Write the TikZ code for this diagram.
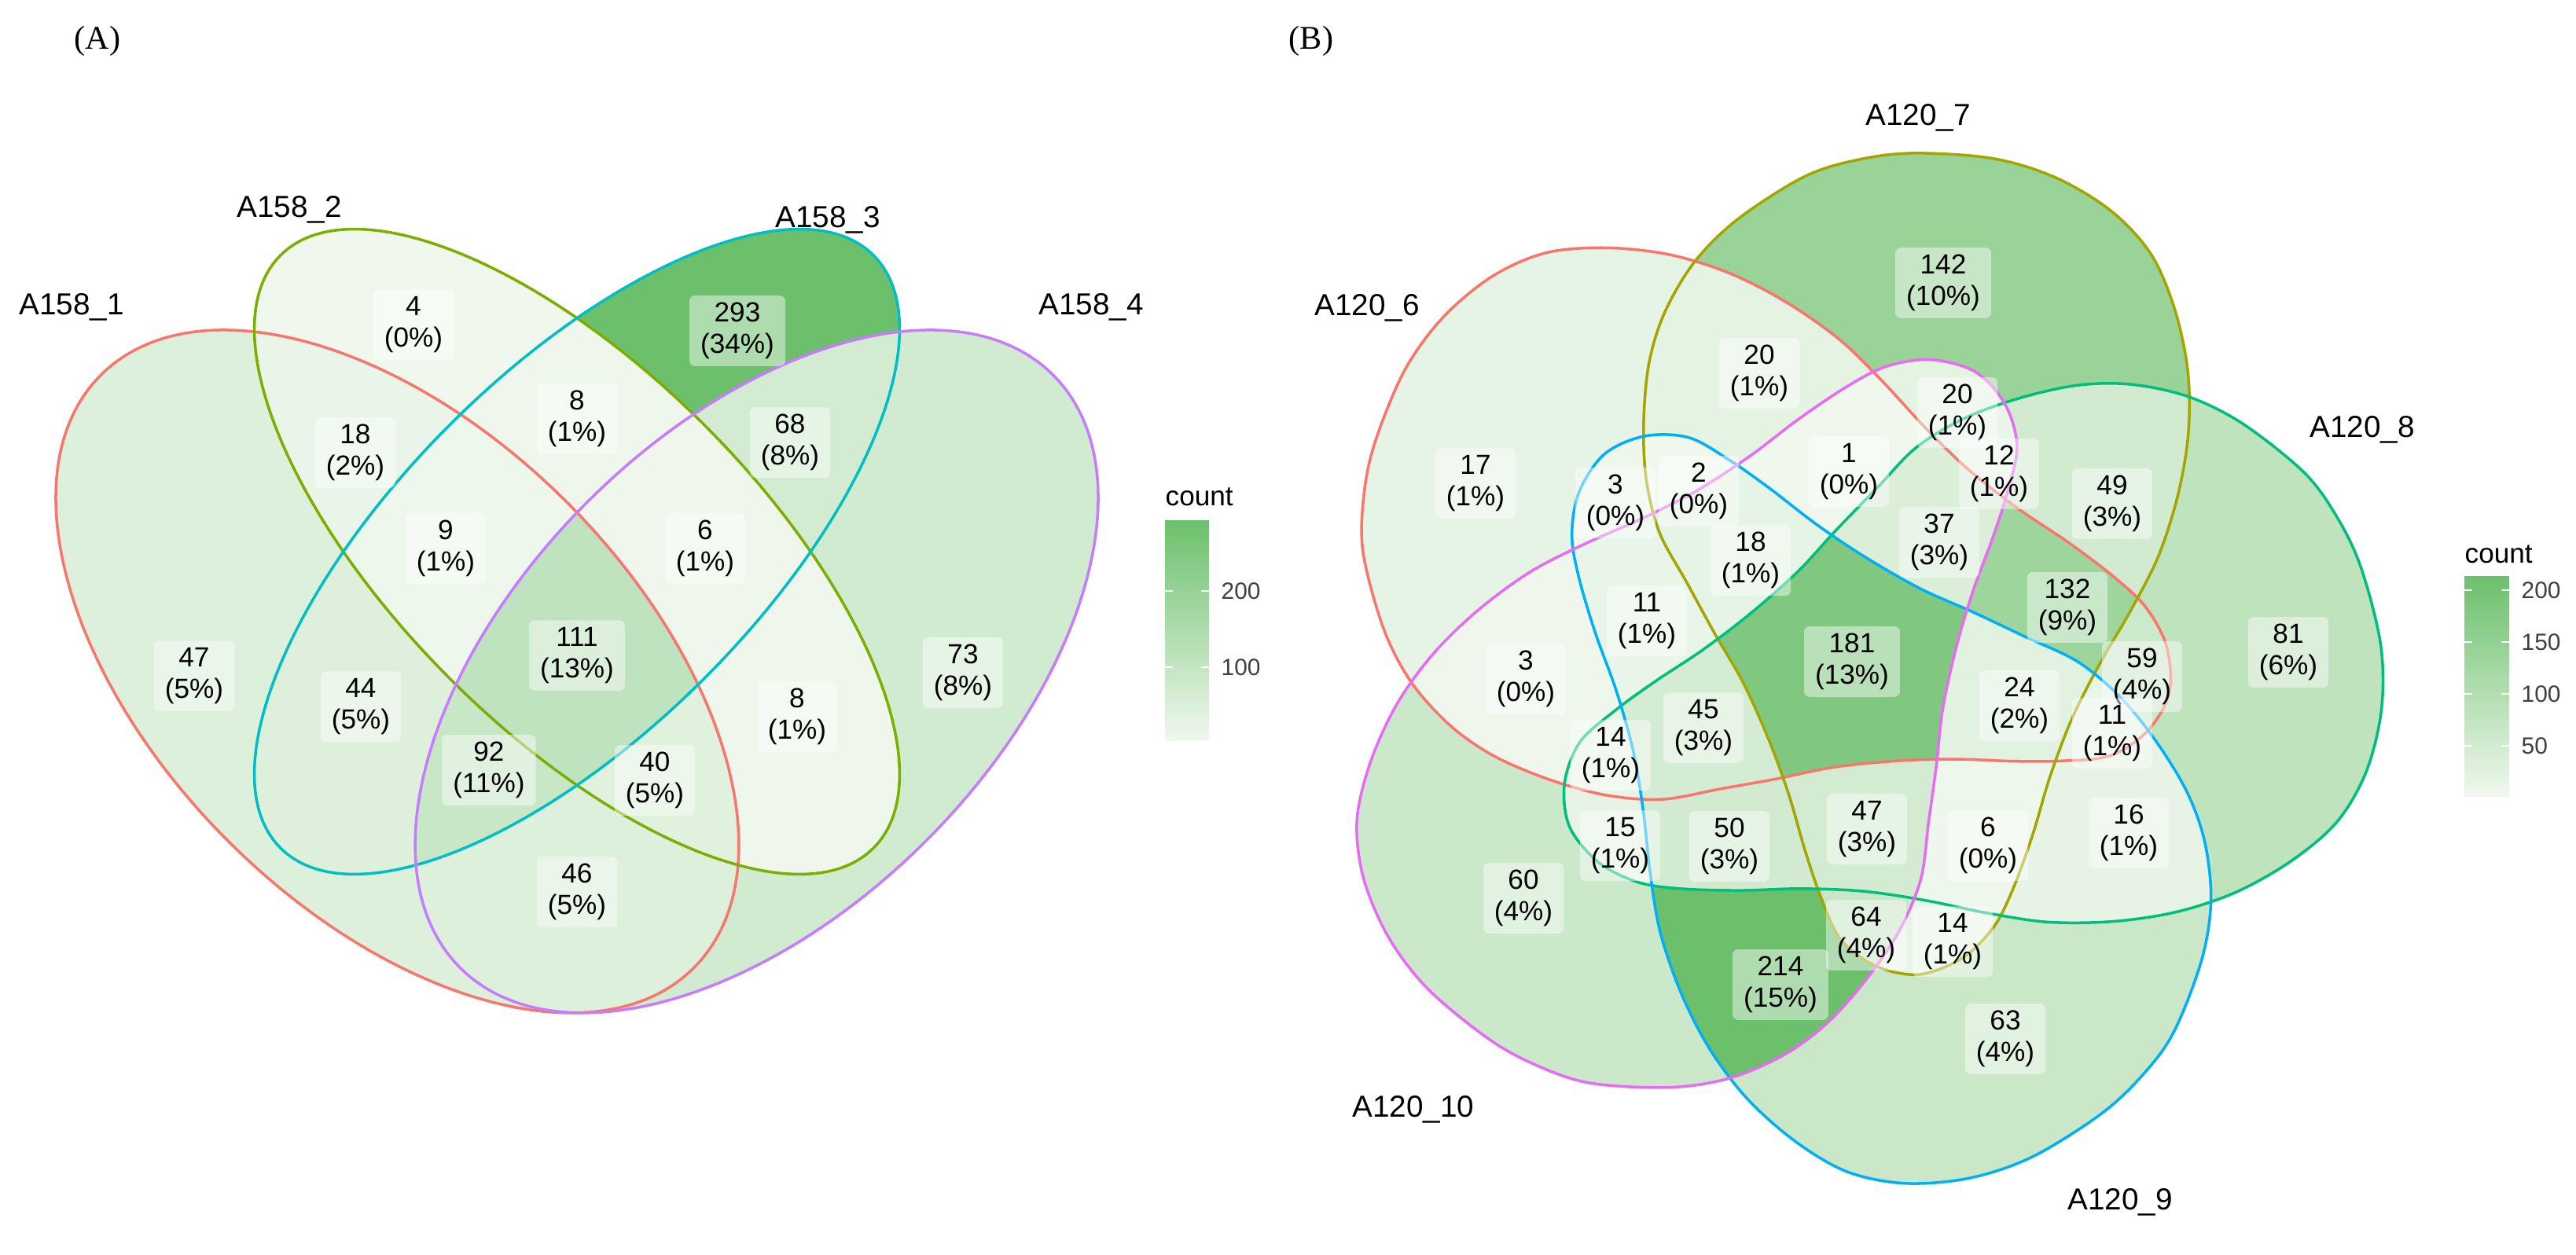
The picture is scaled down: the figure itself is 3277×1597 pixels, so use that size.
\documentclass[tikz,border=0pt]{standalone}
\usepackage{fontspec}
\setmainfont{Liberation Sans}
\newfontfamily\paneltitle{Liberation Serif}
\usepackage{tikz}

\definecolor{vlow}{RGB}{240,248,238}
\definecolor{vhigh}{RGB}{108,192,108}
\definecolor{cA1}{HTML}{F8766D}
\definecolor{cA2}{HTML}{7CAE00}
\definecolor{cA3}{HTML}{00BFC4}
\definecolor{cA4}{HTML}{C77CFF}
\definecolor{cB6}{HTML}{F8766D}
\definecolor{cB7}{HTML}{A3A500}
\definecolor{cB8}{HTML}{00BF7D}
\definecolor{cB9}{HTML}{00B0F6}
\definecolor{cB10}{HTML}{E76BF3}

\tikzset{
  cnt/.style={fill=white, fill opacity=0.45, text opacity=1, rounded corners=2pt,
    inner xsep=4pt, inner ysep=2.5pt, align=center, font=\fontsize{10}{11.5}\selectfont},
  setlbl/.style={font=\fontsize{11}{13}\selectfont},
  legtitle/.style={font=\fontsize{10}{12}\selectfont, anchor=west, inner sep=0pt},
  ticklbl/.style={font=\fontsize{8.5}{10}\selectfont, text=black!75, anchor=west, inner sep=0pt},
  edge/.style={line width=1pt},
  tickmark/.style={white, line width=0.8pt},
  % ellipses of (A), in data units
  setA1/.style={shift={(-0.15,-0.10)}, rotate=135},
  setA2/.style={rotate=135},
  setA3/.style={rotate=45},
  setA4/.style={shift={(0.15,-0.10)}, rotate=45},
  % blobs of (B), turned round the centre
  setB6/.style={rotate=72},
  setB7/.style={rotate=0},
  setB8/.style={rotate=-72},
  setB9/.style={rotate=-144},
  setB10/.style={rotate=-216},
}

\newcommand{\ellOut}{(0,0) ellipse [x radius=0.35, y radius=0.20]}
\newcommand{\ellIn}{(0,0) ellipse [x radius=0.35, y radius=0.15]}
\newcommand{\blob}{plot[smooth cycle, tension=0.55] coordinates {
  (86,-660) (186,-653) (266,-628) (336,-585) (386,-530) (416,-460) (433,-380)
  (434,-300) (421,-220) (396,-140) (361,-70) (321,0) (286,70) (258,145)
  (236,220) (211,290) (186,340) (146,380) (91,401) (36,390) (-9,355)
  (-34,300) (-54,240) (-74,170) (-99,100) (-132,25) (-169,-40) (-204,-105)
  (-239,-170) (-256,-240) (-259,-315) (-252,-390) (-232,-455) (-194,-520)
  (-139,-575) (-54,-630) (16,-652)}}

% one region of (A): in/out flag for sets 1..4, then shade
\newcommand{\regA}[5]{%
  \begin{scope}[even odd rule]
    \ifnum#1=1 \clip[setA1] \ellOut; \else \clip[setA1] (-4,-4) rectangle (4,4) \ellOut; \fi
    \ifnum#2=1 \clip[setA2] \ellIn; \else \clip[setA2] (-4,-4) rectangle (4,4) \ellIn; \fi
    \ifnum#3=1 \clip[setA3] \ellIn; \else \clip[setA3] (-4,-4) rectangle (4,4) \ellIn; \fi
    \ifnum#4=1 \clip[setA4] \ellOut; \else \clip[setA4] (-4,-4) rectangle (4,4) \ellOut; \fi
    \fill[vhigh!#5!vlow] (-1,-1) rectangle (1,1);
  \end{scope}}

% one region of (B): in/out flag for sets 6..10, then shade
\newcommand{\regB}[6]{%
  \begin{scope}[even odd rule]
    \ifnum#1=1 \clip[setB6] \blob; \else \clip[setB6] (-2000,-2000) rectangle (2000,2000) \blob; \fi
    \ifnum#2=1 \clip[setB7] \blob; \else \clip[setB7] (-2000,-2000) rectangle (2000,2000) \blob; \fi
    \ifnum#3=1 \clip[setB8] \blob; \else \clip[setB8] (-2000,-2000) rectangle (2000,2000) \blob; \fi
    \ifnum#4=1 \clip[setB9] \blob; \else \clip[setB9] (-2000,-2000) rectangle (2000,2000) \blob; \fi
    \ifnum#5=1 \clip[setB10] \blob; \else \clip[setB10] (-2000,-2000) rectangle (2000,2000) \blob; \fi
    \fill[vhigh!#6!vlow] (-1000,-1000) rectangle (1000,1000);
  \end{scope}}

\begin{document}
\begin{tikzpicture}[x=0.01cm, y=-0.01cm]
  \path[use as bounding box, fill=white] (0,0) rectangle (3277,1597);

  %% (A)
  \node[font=\paneltitle\fontsize{12}{14}\selectfont] (titA) at (124,52) {(A)};

  \begin{scope}[shift={(734,702)}, x=15.23cm, y=15.23cm]
    \regA{1}{0}{0}{0}{15} % 47
    \regA{0}{1}{0}{0}{0}  % 4
    \regA{0}{0}{1}{0}{100}% 293
    \regA{0}{0}{0}{1}{24} % 73
    \regA{1}{1}{0}{0}{5}  % 18
    \regA{0}{1}{1}{0}{1}  % 8
    \regA{0}{0}{1}{1}{22} % 68
    \regA{1}{0}{0}{1}{15} % 46
    \regA{1}{0}{1}{0}{14} % 44
    \regA{0}{1}{0}{1}{1}  % 8
    \regA{1}{1}{1}{0}{2}  % 9
    \regA{0}{1}{1}{1}{1}  % 6
    \regA{1}{0}{1}{1}{30} % 92
    \regA{1}{1}{0}{1}{12} % 40
    \regA{1}{1}{1}{1}{37} % 111

    \draw[edge, cA1, setA1] \ellOut;
    \draw[edge, cA2, setA2] \ellIn;
    \draw[edge, cA3, setA3] \ellIn;
    \draw[edge, cA4, setA4] \ellOut;
  \end{scope}

  \node[setlbl] (lA1) at (91,391) {A158\_1};
  \node[setlbl] (lA2) at (368,267) {A158\_2};
  \node[setlbl] (lA3) at (1053,280) {A158\_3};
  \node[setlbl] (lA4) at (1388,391) {A158\_4};

  \node[cnt] (nA0100) at (526,413) {4\\(0\%)};
  \node[cnt] (nA0010) at (938,421) {293\\(34\%)};
  \node[cnt] (nA0110) at (734,533) {8\\(1\%)};
  \node[cnt] (nA1100) at (452,576) {18\\(2\%)};
  \node[cnt] (nA0011) at (1005,563) {68\\(8\%)};
  \node[cnt] (nA1110) at (567,698) {9\\(1\%)};
  \node[cnt] (nA0111) at (897,698) {6\\(1\%)};
  \node[cnt] (nA1000) at (247,860) {47\\(5\%)};
  \node[cnt] (nA1111) at (734,834) {111\\(13\%)};
  \node[cnt] (nA0001) at (1225,856) {73\\(8\%)};
  \node[cnt] (nA1010) at (459,899) {44\\(5\%)};
  \node[cnt] (nA0101) at (1014,912) {8\\(1\%)};
  \node[cnt] (nA1011) at (622,980) {92\\(11\%)};
  \node[cnt] (nA1101) at (833,993) {40\\(5\%)};
  \node[cnt] (nA1001) at (734,1135) {46\\(5\%)};

  % legend A
  \node[legtitle] (cntA) at (1482,632) {count};
  \shade[bottom color=vlow, top color=vhigh] (1482,662) rectangle (1538,942);
  \foreach \v/\y in {200/752, 100/849} {
    \draw[tickmark] (1482,\y) -- +(10,0);
    \draw[tickmark] (1538,\y) -- +(-10,0);
    \node[ticklbl] (tA\v) at (1553,\y) {\v};
  }

  %% (B)
  \node[font=\paneltitle\fontsize{12}{14}\selectfont] (titB) at (1668,52) {(B)};

  \begin{scope}[shift={(2350,845)}, yscale=0.985]
    \regB{1}{0}{0}{0}{0}{8}  % 17
    \regB{0}{1}{0}{0}{0}{66} % 142
    \regB{0}{0}{1}{0}{0}{38} % 81
    \regB{0}{0}{0}{1}{0}{29} % 63
    \regB{0}{0}{0}{0}{1}{28} % 60
    \regB{1}{1}{0}{0}{0}{9}  % 20
    \regB{1}{0}{1}{0}{0}{27} % 59
    \regB{1}{0}{0}{1}{0}{1}  % 3
    \regB{1}{0}{0}{0}{1}{1}  % 3
    \regB{0}{1}{1}{0}{0}{23} % 49
    \regB{0}{1}{0}{1}{0}{6}  % 14
    \regB{0}{1}{0}{0}{1}{9}  % 20
    \regB{0}{0}{1}{1}{0}{7}  % 16
    \regB{0}{0}{1}{0}{1}{7}  % 15
    \regB{0}{0}{0}{1}{1}{100}% 214
    \regB{1}{1}{1}{0}{0}{62} % 132
    \regB{1}{1}{0}{1}{0}{0}  % 2
    \regB{1}{1}{0}{0}{1}{0}  % 1
    \regB{1}{0}{1}{1}{0}{5}  % 11
    \regB{1}{0}{1}{0}{1}{6}  % 14
    \regB{1}{0}{0}{1}{1}{5}  % 11
    \regB{0}{1}{1}{1}{0}{2}  % 6
    \regB{0}{1}{1}{0}{1}{5}  % 12
    \regB{0}{1}{0}{1}{1}{30} % 64
    \regB{0}{0}{1}{1}{1}{23} % 50
    \regB{1}{1}{1}{1}{0}{11} % 24
    \regB{1}{1}{1}{0}{1}{17} % 37
    \regB{1}{1}{0}{1}{1}{8}  % 18
    \regB{1}{0}{1}{1}{1}{21} % 45
    \regB{0}{1}{1}{1}{1}{22} % 47
    \regB{1}{1}{1}{1}{1}{85} % 181

    \draw[edge, cB6, setB6] \blob;
    \draw[edge, cB7, setB7] \blob;
    \draw[edge, cB8, setB8] \blob;
    \draw[edge, cB9, setB9] \blob;
    \draw[edge, cB10, setB10] \blob;
  \end{scope}

  \node[setlbl] (lB6) at (1739,392) {A120\_6};
  \node[setlbl] (lB7) at (2440,150) {A120\_7};
  \node[setlbl] (lB8) at (3005,547) {A120\_8};
  \node[setlbl] (lB9) at (2697,1530) {A120\_9};
  \node[setlbl] (lB10) at (1798,1412) {A120\_10};

  \node[cnt] (nB01000) at (2472,360) {142\\(10\%)};
  \node[cnt] (nB11000) at (2238,475) {20\\(1\%)};
  \node[cnt] (nB01001) at (2490,525) {20\\(1\%)};
  \node[cnt] (nB10000) at (1877,615) {17\\(1\%)};
  \node[cnt] (nB10010) at (2055,640) {3\\(0\%)};
  \node[cnt] (nB11010) at (2161,625) {2\\(0\%)};
  \node[cnt] (nB11001) at (2352,600) {1\\(0\%)};
  \node[cnt] (nB01101) at (2543,603) {12\\(1\%)};
  \node[cnt] (nB01100) at (2687,641) {49\\(3\%)};
  \node[cnt] (nB11011) at (2227,713) {18\\(1\%)};
  \node[cnt] (nB11101) at (2467,690) {37\\(3\%)};
  \node[cnt] (nB11100) at (2630,773) {132\\(9\%)};
  \node[cnt] (nB10011) at (2095,790) {11\\(1\%)};
  \node[cnt] (nB11111) at (2356,842) {181\\(13\%)};
  \node[cnt] (nB00100) at (2911,830) {81\\(6\%)};
  \node[cnt] (nB10100) at (2725,861) {59\\(4\%)};
  \node[cnt] (nB10001) at (1941,864) {3\\(0\%)};
  \node[cnt] (nB11110) at (2569,898) {24\\(2\%)};
  \node[cnt] (nB10111) at (2167,926) {45\\(3\%)};
  \node[cnt] (nB10110) at (2687,933) {11\\(1\%)};
  \node[cnt] (nB10101) at (2049,961) {14\\(1\%)};
  \node[cnt] (nB01111) at (2375,1055) {47\\(3\%)};
  \node[cnt] (nB00110) at (2708,1060) {16\\(1\%)};
  \node[cnt] (nB00101) at (2061,1076) {15\\(1\%)};
  \node[cnt] (nB00111) at (2200,1077) {50\\(3\%)};
  \node[cnt] (nB01110) at (2529,1076) {6\\(0\%)};
  \node[cnt] (nB00001) at (1938,1143) {60\\(4\%)};
  \node[cnt] (nB01011) at (2374,1190) {64\\(4\%)};
  \node[cnt] (nB01010) at (2484,1198) {14\\(1\%)};
  \node[cnt] (nB00011) at (2265,1253) {214\\(15\%)};
  \node[cnt] (nB00010) at (2551,1322) {63\\(4\%)};

  % legend B
  \node[legtitle] (cntB) at (3135,705) {count};
  \shade[bottom color=vlow, top color=vhigh] (3135,733) rectangle (3192,1013);
  \foreach \v/\y in {200/751, 150/817, 100/883, 50/949} {
    \draw[tickmark] (3135,\y) -- +(10,0);
    \draw[tickmark] (3192,\y) -- +(-10,0);
    \node[ticklbl] (tB\v) at (3207,\y) {\v};
  }
\end{tikzpicture}
\end{document}
